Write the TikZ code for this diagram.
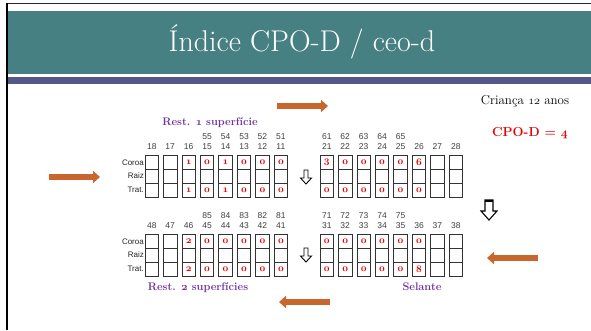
\documentclass[tikz,border=0pt]{standalone}
\usepackage{fontspec}
\newfontfamily\arial{Liberation Sans}
\usetikzlibrary{arrows.meta}
\newcommand\osn[1]{{\usefont{OML}{cmm}{m}{it}#1}}
\newcommand\osnb[1]{{\usefont{OML}{cmm}{b}{it}#1}}
\definecolor{teal1}{RGB}{70,128,130}
\definecolor{band}{RGB}{85,87,137}
\definecolor{orng}{RGB}{200,102,45}
\definecolor{purp}{RGB}{112,48,160}
\definecolor{redd}{RGB}{230,0,0}
\tikzset{
  cell/.style={draw=black!80, line width=0.8pt, minimum width=13.5pt, minimum height=14pt, inner sep=0pt, text=redd, font=\fontsize{10}{10}\selectfont},
  num/.style={inner sep=0pt, text=black!75, font=\arial\fontsize{8.5}{9}\selectfont},
  lbl/.style={inner sep=0pt, anchor=east, text=black!85, font=\arial\fontsize{8}{9}\selectfont},
  oarrow/.style={orng, line width=5.5pt, -{Triangle[width=12pt,length=7pt]}},
  hollow/.style={draw=black, line width=0.9pt, fill=white},
  ptitle/.style={inner sep=0pt, text=purp, font=\bfseries\fontsize{11}{12}\selectfont},
}
\newcommand\tooth[7]{%
  \node[cell] (#3c) at (#1+6.75,#2+7) {\osnb{#6}};
  \node[cell] (#3r) at (#1+6.75,#2+21) {};
  \node[cell] (#3t) at (#1+6.75,#2+35) {\osnb{#7}};
  \node[num] (#3n) at (#1+6.75,#2-8) {#4};
  \if\relax\detokenize{#5}\relax\else\node[num] (#3u) at (#1+6.75,#2-18) {#5};\fi
}
\begin{document}
\begin{tikzpicture}[x=1pt,y=-1pt]
\useasboundingbox (0,0) rectangle (591,330);
\fill[white] (0,0) rectangle (591,330);
% frame and header
\draw[black!85, line width=1.5pt] (6,3.5) -- (591,3.5);
\draw[black, line width=2pt] (7,3) -- (7,330);
\fill[teal1] (8,11) rectangle (591,74);
\fill[band] (8,77) rectangle (591,84);
\node[text=white, inner sep=0pt, font=\fontsize{30}{32}\selectfont] (title) at (302,42) {Índice CPO-D / ceo-d};
% side texts
\node[inner sep=0pt, font=\fontsize{13}{14}\selectfont] (crianca) at (525,101) {Criança \osn{12} anos};
\node[inner sep=0pt, text=redd, font=\bfseries\fontsize{13}{14}\selectfont] (cpod) at (530,133) {CPO-D = \osnb{4}};
\node[ptitle] (rest1) at (210,123) {Rest. \osnb{1} superfície};
\node[ptitle] (rest2) at (198,288) {Rest. \osnb{2} superfícies};
\node[ptitle] (selante) at (422,287) {Selante};
% row labels
\node[lbl] (coroa1) at (144,163) {Coroa};
\node[lbl] (raiz1) at (144,176) {Raiz};
\node[lbl] (trat1) at (144,190) {Trat.};
\node[lbl] (coroa2) at (144,242) {Coroa};
\node[lbl] (raiz2) at (144,255) {Raiz};
\node[lbl] (trat2) at (144,269) {Trat.};
% top left
\tooth{145}{155}{t18}{18}{}{}{}
\tooth{163.45}{155}{t17}{17}{}{}{}
\tooth{181.9}{155}{t16}{16}{}{1}{1}
\tooth{200.35}{155}{t15}{15}{55}{0}{0}
\tooth{218.8}{155}{t14}{14}{54}{1}{1}
\tooth{237.25}{155}{t13}{13}{53}{0}{0}
\tooth{255.7}{155}{t12}{12}{52}{0}{0}
\tooth{274.15}{155}{t11}{11}{51}{0}{0}
% top right
\tooth{320}{155}{t21}{21}{61}{3}{0}
\tooth{338.45}{155}{t22}{22}{62}{0}{0}
\tooth{356.9}{155}{t23}{23}{63}{0}{0}
\tooth{375.35}{155}{t24}{24}{64}{0}{0}
\tooth{393.8}{155}{t25}{25}{65}{0}{0}
\tooth{412.25}{155}{t26}{26}{}{6}{0}
\tooth{430.7}{155}{t27}{27}{}{}{}
\tooth{449.15}{155}{t28}{28}{}{}{}
% bottom left
\tooth{145}{234}{t48}{48}{}{}{}
\tooth{163.45}{234}{t47}{47}{}{}{}
\tooth{181.9}{234}{t46}{46}{}{2}{2}
\tooth{200.35}{234}{t45}{45}{85}{0}{0}
\tooth{218.8}{234}{t44}{44}{84}{0}{0}
\tooth{237.25}{234}{t43}{43}{83}{0}{0}
\tooth{255.7}{234}{t42}{42}{82}{0}{0}
\tooth{274.15}{234}{t41}{41}{81}{0}{0}
% bottom right
\tooth{320}{234}{t31}{31}{71}{0}{0}
\tooth{338.45}{234}{t32}{32}{72}{0}{0}
\tooth{356.9}{234}{t33}{33}{73}{0}{0}
\tooth{375.35}{234}{t34}{34}{74}{0}{0}
\tooth{393.8}{234}{t35}{35}{75}{0}{0}
\tooth{412.25}{234}{t36}{36}{}{0}{8}
\tooth{430.7}{234}{t37}{37}{}{}{}
\tooth{449.15}{234}{t38}{38}{}{}{}
% hollow arrows
\draw[hollow] (304,170) -- (308,170) -- (308,178) -- (311.5,178) -- (306,184) -- (300.5,178) -- (304,178) -- cycle;
\draw[hollow] (304,248) -- (308,248) -- (308,256) -- (311.5,256) -- (306,262) -- (300.5,256) -- (304,256) -- cycle;
\draw[hollow, line width=1.1pt] (485,200) -- (493,200) -- (493,211) -- (497,211) -- (489,220) -- (481,211) -- (485,211) -- cycle;
\draw[black, line width=2pt] (485,201) -- (493,201);
% orange arrows
\coordinate (a1s) at (277,106); \coordinate (a1e) at (328,106);
\coordinate (a2s) at (49,177);  \coordinate (a2e) at (100,177);
\coordinate (a3s) at (538,258); \coordinate (a3e) at (487,258);
\coordinate (a4s) at (330,302); \coordinate (a4e) at (279,302);
\draw[oarrow] (a1s) -- (a1e);
\draw[oarrow] (a2s) -- (a2e);
\draw[oarrow] (a3s) -- (a3e);
\draw[oarrow] (a4s) -- (a4e);
\end{tikzpicture}
\end{document}
